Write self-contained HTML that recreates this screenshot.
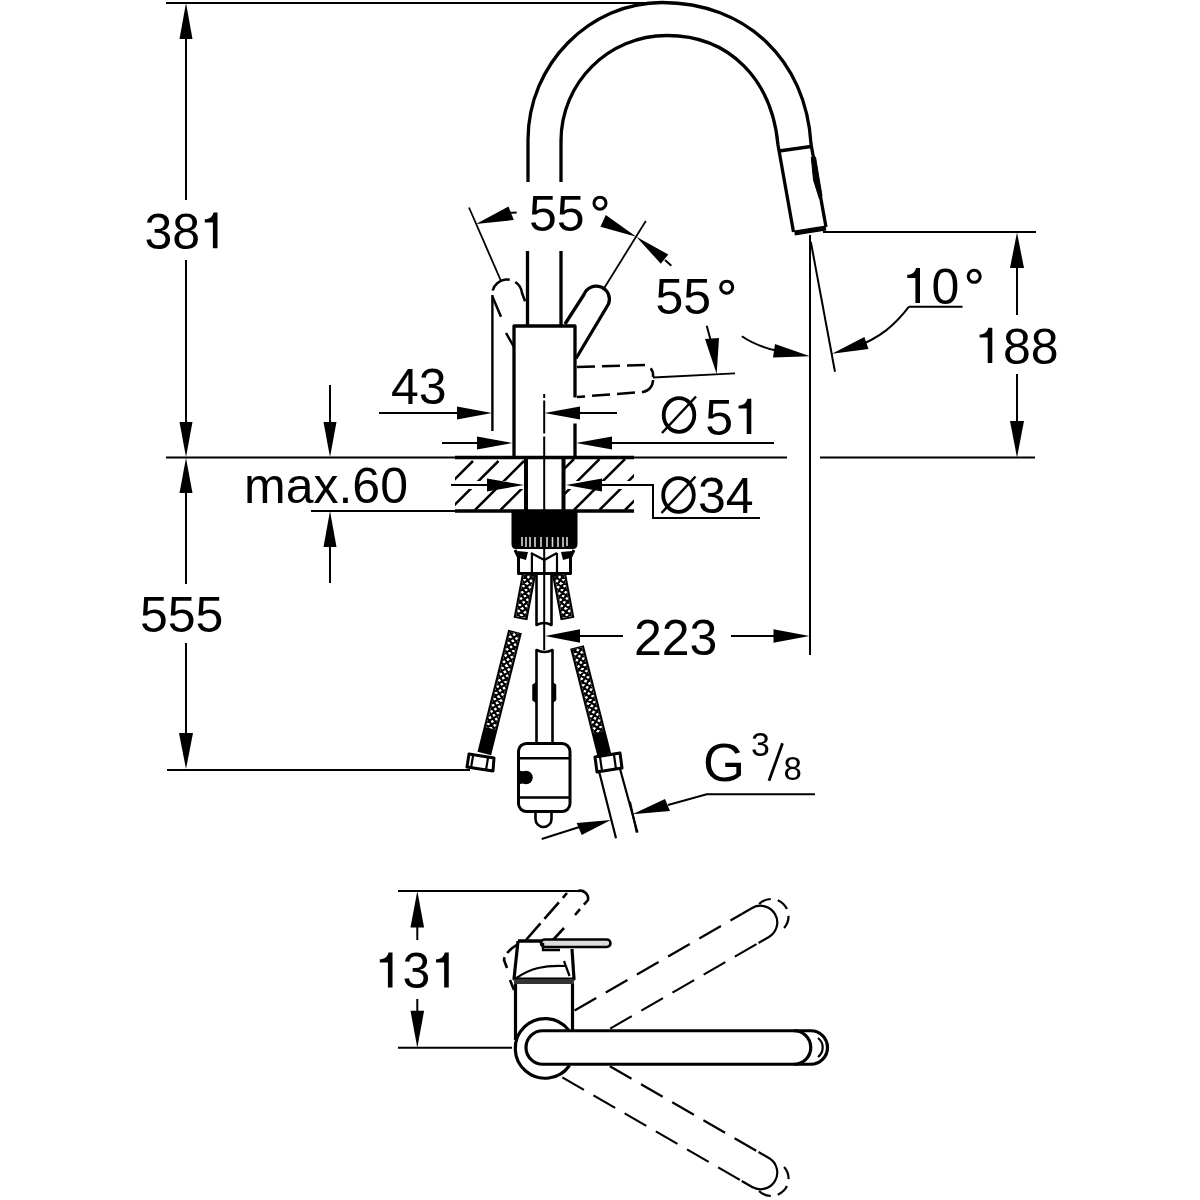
<!DOCTYPE html>
<html><head><meta charset="utf-8">
<style>
html,body{margin:0;padding:0;background:#fff;width:1200px;height:1200px;overflow:hidden;}
svg{display:block;filter:grayscale(1);}
text{font-family:"Liberation Sans",sans-serif;fill:#000;}
</style></head><body>
<svg width="1200" height="1200" viewBox="0 0 1200 1200">
<defs>
<clipPath id="hl"><rect x="455" y="459" width="69" height="22"/><rect x="455" y="489" width="69" height="21"/></clipPath>
<clipPath id="hr"><rect x="565" y="459" width="69" height="22"/><rect x="565" y="489" width="69" height="21"/></clipPath>
</defs>
<rect width="1200" height="1200" fill="#fff"/>
<g fill="none" stroke="#000" stroke-linecap="butt">
<!-- ===== left dims 381 / 555 ===== -->
<path d="M166 3H655" stroke-width="2"/>
<path d="M186 30V200M186 260V425" stroke-width="2"/>
<path d="M186 490V584M186 643V738" stroke-width="2"/>
<path d="M166 457.5H456" stroke-width="2"/>
<path d="M167 770H470" stroke-width="2"/>
<!-- max.60 -->
<path d="M330 385V425M330 543V583" stroke-width="2"/>
<path d="M311 511H456" stroke-width="2"/>
<!-- 43 -->
<path d="M379 413H460M492.5 295V431" stroke-width="2"/>
<path d="M575 413H617" stroke-width="2"/>
<!-- Ø51 -->
<path d="M442 443H480M608 443H774" stroke-width="2"/>
<path d="M634 457.5H787" stroke-width="2"/>
<!-- Ø34 -->
<path d="M451 485H490M598 485H653V518H760" stroke-width="2"/>
<!-- 188 -->
<path d="M823 232H1036M1017 262V315M1017 374V425M820 457.5H1035" stroke-width="2"/>
<!-- 223 -->
<path d="M810 235V655" stroke-width="2"/>
<path d="M731 636H778M578 636H623" stroke-width="2"/>
</g>

<!-- ===== faucet body ===== -->
<g fill="none" stroke="#000" stroke-width="3.3" stroke-linejoin="round">
<path d="M528 182V140C528 64 590 2.5 662 2.5C746 2.5 806 60 811 144L826 227"/>
<path d="M561 182V141C561 82.5 608.5 35.5 667 35.5C730 35.5 772 80 778 145L793.5 232"/>
<path d="M779 151L811 146.5"/>
<path d="M794.5 233L826 228" stroke-width="5"/>
<path d="M811.3 157.5L815.5 157L822 196L819.5 199L813.5 180Z" fill="#000" stroke-width="1"/>
<path d="M527.5 251V326M561 251V326"/>
<path d="M514 457.5V326H575V397.5M575 423.5V457.5"/>
<!-- solid lever -->
<path d="M565 324L584 294.5A13 13 0 0 1 608.5 304L576 358.5"/>
</g>
<g fill="none" stroke="#000" stroke-width="2.5">
<path d="M501 316.7L492.2 296A14 14 0 0 1 522 293L526 303.8" stroke-dasharray="22 6"/>
<path d="M506 333L514 347"/>
<path d="M577 367L647 365A12 12 0 0 1 653 377M653 380A12 12 0 0 1 643 392L577 397" stroke-dasharray="18 7"/>
</g>
<g fill="none" stroke="#000" stroke-width="1.8">
<path d="M469 207.5L501 281"/>
<path d="M645.8 221L603 290"/>
<path d="M653 377.5L735 373.3"/>
<path d="M492.3 295V431"/>
</g>


<!-- ===== countertop ===== -->
<g fill="none" stroke="#000">
<path d="M473 461L424 510 M498.5 461L449.5 510 M524 461L475 510 M549.5 461L500.5 510 M575 461L526 510" stroke-width="2.5" clip-path="url(#hl)"/>
<path d="M574 459L523 510 M599.5 459L548.5 510 M625 459L574 510 M650.5 459L599.5 510 M676 459L625 510 M701.5 459L650.5 510" stroke-width="2.5" clip-path="url(#hr)"/>
<path d="M455 457.5H634M455 511H634" stroke-width="3.5"/>
<path d="M526 457.5V511M563.5 457.5V511" stroke-width="4"/>
<path d="M544.2 394V398M544.2 400.5V433.5M544.2 436.5V457M544.2 459V511M544.2 513V650" stroke-width="2"/>
</g>

<!-- ===== under counter ===== -->
<path d="M511.5 510V544Q511.5 549 516 549H573Q577.5 549 577.5 544V510Z" fill="#000"/>
<g stroke="#fff" stroke-width="1.6" opacity="0.85">
<path d="M522 537V546M526 537V547M530 537V547M535 537V547M541 537V547M547 537V547M552.5 537V547M558 537V547M563 537V547M567 537V546"/>
</g>
<g fill="none" stroke="#000" stroke-width="3" stroke-linejoin="round">
<path d="M515 550L518.5 557V573.5H570.5V557L574 550"/>
<path d="M531.9 553V573M557 553V573M544.3 558V573" stroke-width="2.2"/>
<path d="M531 553L544.3 560L557 553" stroke-width="2.2"/>
</g>
<g fill="#000"><polygon points="517,551 528,552 526,560 519,558"/><polygon points="572,551 561,552 563,560 570,558"/></g>
<!--HOSES-->
<polygon points="522.1,572.7 535.9,575.3 527.4,620.3 513.6,617.7" fill="#000"/>
<clipPath id="hz1"><polygon points="524.0,574.6 533.4,576.4 525.5,618.1 516.1,616.3"/></clipPath>
<polygon points="524.0,574.6 533.4,576.4 525.5,618.1 516.1,616.3" fill="#fff"/>
<path d="M539.3 550.5L525.8 559.7M537.2 561.9L528.0 548.4M538.1 556.8L524.6 566.0M536.0 568.2L526.8 554.7M536.9 563.1L523.5 572.3M534.8 574.4L525.6 561.0M535.7 569.4L522.3 578.6M533.6 580.7L524.4 567.3M534.5 575.7L521.1 584.9M532.4 587.0L523.2 573.6M533.4 582.0L519.9 591.2M531.2 593.3L522.0 579.8M532.2 588.3L518.7 597.5M530.0 599.6L520.8 586.1M531.0 594.6L517.5 603.7M528.8 605.9L519.7 592.4M529.8 600.9L516.3 610.0M527.7 612.2L518.5 598.7M528.6 607.1L515.1 616.3M526.5 618.5L517.3 605.0M527.4 613.4L514.0 622.6M525.3 624.8L516.1 611.3M526.2 619.7L512.8 628.9M524.1 631.0L514.9 617.6M525.0 626.0L511.6 635.2M522.9 637.3L513.7 623.9" stroke="#000" stroke-width="2.1" clip-path="url(#hz1)"/>
<polygon points="552.1,575.3 565.9,572.7 574.4,617.7 560.6,620.3" fill="#000"/>
<clipPath id="hz2"><polygon points="554.6,576.4 564.0,574.6 571.9,616.3 562.5,618.1"/></clipPath>
<polygon points="554.6,576.4 564.0,574.6 571.9,616.3 562.5,618.1" fill="#fff"/>
<path d="M560.0 548.4L550.8 561.9M562.2 559.7L548.7 550.5M561.2 554.7L552.0 568.2M563.4 566.0L549.9 556.8M562.4 561.0L553.2 574.4M564.5 572.3L551.1 563.1M563.6 567.3L554.4 580.7M565.7 578.6L552.3 569.4M564.8 573.6L555.6 587.0M566.9 584.9L553.5 575.7M566.0 579.8L556.8 593.3M568.1 591.2L554.6 582.0M567.2 586.1L558.0 599.6M569.3 597.5L555.8 588.3M568.3 592.4L559.2 605.9M570.5 603.7L557.0 594.6M569.5 598.7L560.3 612.2M571.7 610.0L558.2 600.9M570.7 605.0L561.5 618.5M572.9 616.3L559.4 607.1M571.9 611.3L562.7 624.8M574.0 622.6L560.6 613.4M573.1 617.6L563.9 631.0M575.2 628.9L561.8 619.7M574.3 623.9L565.1 637.3M576.4 635.2L563.0 626.0" stroke="#000" stroke-width="2.1" clip-path="url(#hz2)"/>
<polygon points="508.2,629.8 521.8,633.2 491.1,755.2 477.5,751.8" fill="#000"/>
<clipPath id="hz3"><polygon points="510.0,631.8 519.3,634.1 495.3,729.6 485.9,727.3"/></clipPath>
<polygon points="510.0,631.8 519.3,634.1 495.3,729.6 485.9,727.3" fill="#fff"/>
<path d="M526.7 608.7L512.7 617.1M523.9 619.9L515.5 605.9M525.1 614.9L511.1 623.3M522.3 626.1L513.9 612.1M523.6 621.1L509.6 629.5M520.7 632.3L512.4 618.3M522.0 627.3L508.0 635.7M519.2 638.5L510.8 624.5M520.4 633.5L506.4 641.9M517.6 644.7L509.3 630.7M518.9 639.7L504.9 648.1M516.1 650.9L507.7 636.9M517.3 645.9L503.3 654.3M514.5 657.1L506.1 643.1M515.7 652.1L501.8 660.5M512.9 663.3L504.6 649.3M514.2 658.4L500.2 666.7M511.4 669.5L503.0 655.5M512.6 664.6L498.6 672.9M509.8 675.7L501.4 661.7M511.1 670.8L497.1 679.1M508.2 681.9L499.9 668.0M509.5 677.0L495.5 685.3M506.7 688.1L498.3 674.2M507.9 683.2L494.0 691.5M505.1 694.4L496.8 680.4M506.4 689.4L492.4 697.7M503.6 700.6L495.2 686.6M504.8 695.6L490.8 704.0M502.0 706.8L493.6 692.8M503.2 701.8L489.3 710.2M500.4 713.0L492.1 699.0M501.7 708.0L487.7 716.4M498.9 719.2L490.5 705.2M500.1 714.2L486.1 722.6M497.3 725.4L489.0 711.4M498.6 720.4L484.6 728.8M495.8 731.6L487.4 717.6M497.0 726.6L483.0 735.0M494.2 737.8L485.8 723.8M495.4 732.8L481.5 741.2M492.6 744.0L484.3 730.0M493.9 739.0L479.9 747.4M491.1 750.2L482.7 736.2" stroke="#000" stroke-width="2.1" clip-path="url(#hz3)"/>
<polygon points="570.2,648.7 583.8,645.3 611.1,753.0 597.5,756.4" fill="#000"/>
<clipPath id="hz4"><polygon points="572.7,649.6 582.0,647.3 603.3,731.1 594.0,733.5"/></clipPath>
<polygon points="572.7,649.6 582.0,647.3 603.3,731.1 594.0,733.5" fill="#fff"/>
<path d="M576.5 621.4L568.1 635.4M579.3 632.6L565.3 624.2M578.0 627.6L569.7 641.6M580.9 638.8L566.9 630.4M579.6 633.8L571.3 647.8M582.4 645.0L568.4 636.6M581.2 640.0L572.8 654.0M584.0 651.2L570.0 642.8M582.7 646.2L574.4 660.2M585.6 657.4L571.6 649.0M584.3 652.4L576.0 666.4M587.1 663.6L573.1 655.2M585.9 658.6L577.5 672.6M588.7 669.8L574.7 661.4M587.5 664.8L579.1 678.8M590.3 676.0L576.3 667.6M589.0 671.0L580.7 685.0M591.9 682.2L577.9 673.9M590.6 677.2L582.3 691.2M593.4 688.4L579.4 680.1M592.2 683.4L583.8 697.4M595.0 694.6L581.0 686.3M593.7 689.6L585.4 703.6M596.6 700.8L582.6 692.5M595.3 695.8L587.0 709.8M598.2 707.0L584.2 698.7M596.9 702.0L588.6 716.0M599.7 713.2L585.7 704.9M598.5 708.2L590.1 722.2M601.3 719.4L587.3 711.1M600.0 714.4L591.7 728.4M602.9 725.6L588.9 717.3M601.6 720.7L593.3 734.6M604.4 731.8L590.4 723.5M603.2 726.9L594.8 740.9M606.0 738.0L592.0 729.7M604.8 733.1L596.4 747.1M607.6 744.2L593.6 735.9M606.3 739.3L598.0 753.3M609.2 750.4L595.2 742.1" stroke="#000" stroke-width="2.1" clip-path="url(#hz4)"/>
<!--/HOSES-->
<g fill="none" stroke="#000" stroke-width="2.6" stroke-linejoin="round">
<path d="M536.5 574V625Q544 621 551.5 625V574"/>
<path d="M536.5 745V650Q544.5 654 552.5 650V745"/>
<path d="M518.5 751A8 8 0 0 1 526.5 743.5H562A8 8 0 0 1 570 751.5V804A8 8 0 0 1 562 811.5H526.5A8 8 0 0 1 518.5 804Z" stroke-width="3"/>
<path d="M519 758.3H570M519 797.5H570"/>
<path d="M535.5 812V819A8 8 0 0 0 551.5 819V812"/>
</g>
<path d="M533 685L536 683V702L533 700ZM555.5 685L553 683V702L555.5 700Z" fill="#000" stroke="#000" stroke-width="1.5"/>
<path d="M520 770.8A7 6.6 0 0 1 520 784Z" fill="#000"/>
<circle cx="526" cy="777.5" r="6.8" fill="#000"/>
<!-- nuts -->
<g fill="#fff" stroke="#000" stroke-width="3" stroke-linejoin="round">
<path d="M469 754L494 758L493 771L467 767Z"/>
<path d="M595 757L620 753L622 768L597 772Z"/>
</g>
<g fill="none" stroke="#000" stroke-width="2.2">
<path d="M473 756L471 768M488 758L486 770"/>
<path d="M600 757L602 771M614 755L616 769"/>
<path d="M598.7 770L616 838.3M619.5 767L637.5 832.5"/>
</g>
<path fill="#000" d="M217.5 212.5V248.3H212.9V222.4H204.8V219.3C209.5 219.3 212.7 216.5 213.5 212.5Z M751.3 398.7V434H746.6999999999999V408.59999999999997H738.5999999999999V405.5C743.3 405.5 746.5 402.7 747.3 398.7Z M992.3 327.7V362.9H987.6999999999999V337.59999999999997H979.5999999999999V334.5C984.3 334.5 987.5 331.7 988.3 327.7Z M920 268V303H915.4V277.9H907.3V274.8C912 274.8 915.2 272 916 268Z"/>
<!-- ===== annotations ===== -->
<g font-size="50">
<text x="529" y="231">55</text>
<text x="655.5" y="314">55</text>
<text x="931.5" y="303.5">0</text>
<text x="705.3" y="435">5</text>
<text x="698" y="512.7">34</text>
</g>
<g fill="none" stroke="#000" stroke-width="3.1">
<circle cx="600" cy="203.2" r="6"/>
<circle cx="726.7" cy="287.2" r="6"/>
<circle cx="974.2" cy="276.3" r="6"/>
</g>
<g fill="none" stroke="#000">
<ellipse cx="679" cy="415" rx="15.3" ry="16.8" stroke-width="3.8"/>
<path d="M662 433L696 396.5" stroke-width="2.5"/>
<ellipse cx="678.5" cy="495" rx="15.3" ry="16.8" stroke-width="3.8"/>
<path d="M661.5 513L695.5 476.5" stroke-width="2.5"/>
</g>
<!-- 55 deg arrows -->
<g fill="#000">
<polygon points="476,224 508.5,206.5 513.8,220"/>
<polygon points="636.3,236.7 605.8,215 600.4,226.7"/>
<polygon points="636.3,236.7 668.3,254.6 660.8,263.8"/>
<polygon points="716.7,374 705,339 719,338"/>
<polygon points="810,356.3 775,344 773,357.5"/>
<polygon points="831.9,353.8 864.4,337 868.5,349"/>
</g>
<g fill="none" stroke="#000" stroke-width="2">
<path d="M507 213L516.7 212.5"/>
<path d="M665 260L671.3 265.8"/>
<path d="M706.7 325.8L712 345"/>
<path d="M741.9 336.3Q756 346 776 350.5"/>
<path d="M909 306.7H962.5M909 306.7C895 325 880 338 855 347"/>
<path d="M810.8 241.7L835 371.7"/>
</g>

<!-- G 3/8 -->
<text x="703" y="780.5" font-size="54">G</text>
<text x="751" y="755.8" font-size="34">3</text>
<text x="783.5" y="780" font-size="33">8</text>
<path d="M769 780.8L782.5 743.3" fill="none" stroke="#000" stroke-width="2.8"/>
<g fill="none" stroke="#000" stroke-width="2">
<path d="M815 794.2H706.7L668 805"/>
<path d="M581 826.5L541.7 839"/>
<path d="M630 801.7L636.7 832.5"/>
</g>
<g fill="#000">
<polygon points="632.5,814.2 665,799 670,811"/>
<polygon points="610.8,820 576.7,823 581.7,835"/>
</g>

<!-- ===== plan view ===== -->
<g fill="none" stroke="#000" stroke-width="2">
<path d="M398 891H578M398 1047.7H512"/>
<path d="M417.3 920V940M417.3 999V1020"/>
</g>
<g fill="#000">
<polygon points="417.3,891 410.5,927.4 424.1,927.4"/>
<polygon points="417.3,1047.7 410.5,1010.8 424.1,1010.8"/>
</g>
<text x="402.6" y="988" font-size="50">3</text>
<path fill="#000" d="M392.5 952.5V987.5H387.9V962.4H379.8V959.3C384.5 959.3 387.7 956.5 388.5 952.5Z M448.75 952.5V987.5H444.15V962.4H436.05V959.3C440.75 959.3 443.95 956.5 444.75 952.5Z"/>
<g fill="none" stroke="#000" stroke-width="2.2" stroke-dasharray="25 11">
<g transform="rotate(-30 544 1047.5)">
<path d="M589 1030.75H782M610.7 1064.25H782"/>
<path d="M782 1030.75H794A16.75 16.75 0 0 1 794 1064.25H782" stroke-dasharray="none"/>
<path d="M802 1030.75A16.75 16.75 0 0 1 810.75 1064.25" stroke-dasharray="13 7"/>
</g>
<g transform="rotate(30 544 1047.5)">
<path d="M574.8 1064.25H782M610.4 1030.75H782"/>
<path d="M782 1064.25H794A16.75 16.75 0 0 0 794 1030.75H782" stroke-dasharray="none"/>
<path d="M802 1064.25A16.75 16.75 0 0 0 810.75 1030.75" stroke-dasharray="13 7"/>
</g>
</g>
<g fill="none" stroke="#000" stroke-width="3.2" stroke-linejoin="round">
<path d="M515.5 1040V984M572.5 984V1030"/>
<path d="M568.5 1030A29.8 29.8 0 1 0 569.5 1065.5"/>
<path d="M794 1030.75H542.75A16.75 16.75 0 0 0 542.75 1064.25H794A16.75 16.75 0 0 0 794 1030.75Z" fill="#fff"/>
<path d="M794 1030.75H810.75A16.75 16.75 0 0 1 810.75 1064.25H794"/>
<path d="M818 1038A12 12 0 0 1 818 1057" stroke-width="2.2"/>
<path d="M518 941L514 979H574L572 949"/>
<path d="M514 981.5H574" stroke-width="5" stroke="#333"/>
<path d="M515 979C530 968 545 965 565 966M564 961L569.5 976" stroke-width="2.2"/>
</g>
<g fill="none" stroke="#000" stroke-width="2.6">
<path d="M526 940L567 893M578 891A8 8 0 0 1 588 900L575 915M564 928L553 940" stroke-dasharray="22 6"/>
<path d="M518 944Q505 952 504 960L507 968M510 980L514 990" stroke-dasharray="14 5"/>
</g>
<path d="M518 941H543" stroke="#000" stroke-width="3.5"/>
<rect x="541" y="939.5" width="69.5" height="7.5" rx="3.75" fill="#ddd" stroke="#000" stroke-width="2.6"/>
<path d="M543 943V950H560" fill="none" stroke="#000" stroke-width="2.4"/>
<!-- arrowheads -->
<g fill="#000">
<polygon points="186,3 179.5,39 192.5,39"/>
<polygon points="186,457 179.5,422 192.5,422"/>
<polygon points="186,458 179.5,493 192.5,493"/>
<polygon points="186,769 179,733 193,733"/>
<polygon points="330,457 323.5,422 336.5,422"/>
<polygon points="330,511 323.5,547 336.5,547"/>
<polygon points="492,413 457,406.5 457,419.5"/>
<polygon points="544.5,413 580,406.5 580,419.5"/>
<polygon points="512.5,443 477,436.5 477,449.5"/>
<polygon points="576,443 612,436.5 612,449.5"/>
<polygon points="524,485 487,478.5 487,491.5"/>
<polygon points="566,485 602,478.5 602,491.5"/>
<polygon points="1017,232.5 1010,268 1024,268"/>
<polygon points="1017,457.5 1010,421 1024,421"/>
<polygon points="809.5,636 773.5,629.3 773.5,642.7"/>
<polygon points="545,636 580,629.3 580,642.7"/>
</g>
<!-- texts -->
<g font-size="50">
<text x="144.5" y="249">38</text>
<text x="140" y="632">555</text>
<text x="244" y="502.5">max.60</text>
<text x="391" y="404">43</text>
<text x="1003" y="364">88</text>
<text x="634" y="655">223</text>
</g>
</svg>
</body></html>
